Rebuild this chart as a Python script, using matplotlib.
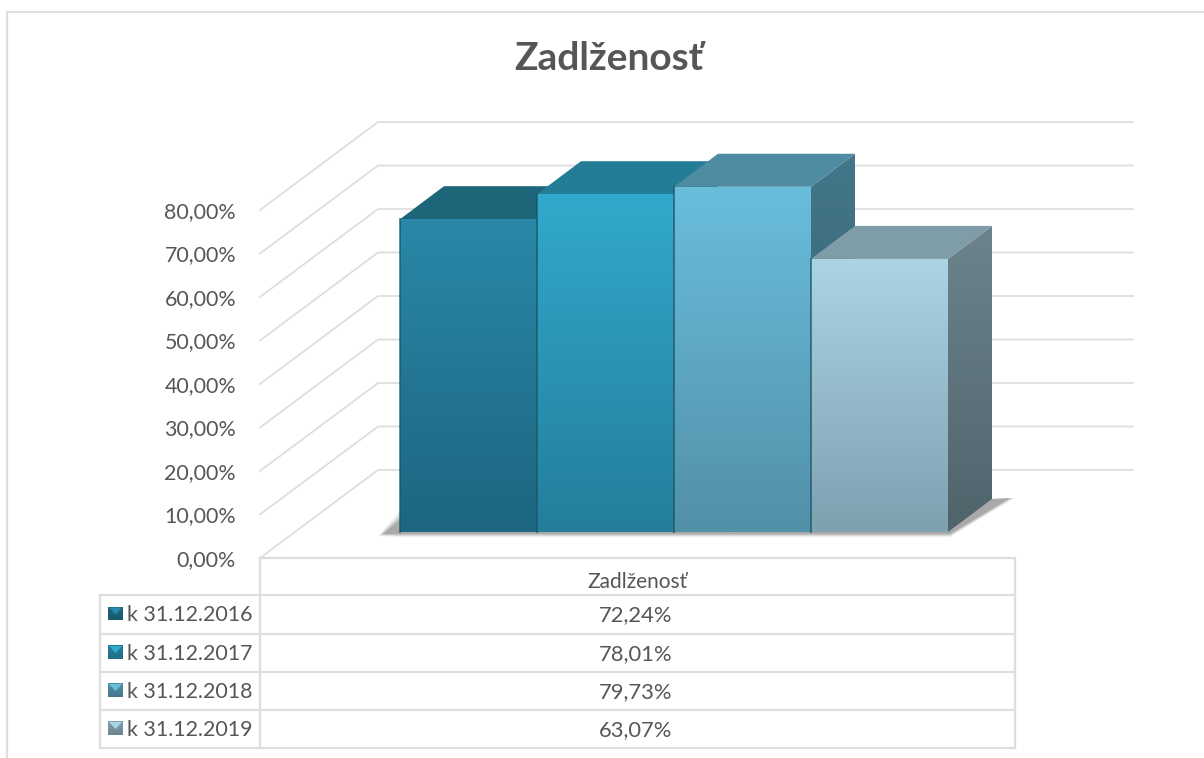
import numpy as np
import matplotlib
matplotlib.use("Agg")
import matplotlib.pyplot as plt
from matplotlib.patches import Polygon
from matplotlib.colors import LinearSegmentedColormap

title = "Zadlženosť"
category = "Zadlženosť"
series_names = ["k 31.12.2016", "k 31.12.2017", "k 31.12.2018", "k 31.12.2019"]
series_values = [72.24, 78.01, 79.73, 63.07]
axis_ticks = [0, 10, 20, 30, 40, 50, 60, 70, 80]

front_top = ["#2a88a8", "#31a9cc", "#69bedc", "#abd4e5"]
front_bottom = ["#1c6680", "#247e9b", "#5290a8", "#7ea1b0"]
top_face = ["#1d6578", "#237d97", "#4f8ba2", "#7f9da8"]
side_top = ["#1a5a6c", "#1f6f88", "#44778b", "#6d848d"]
side_bottom = ["#123f4c", "#164f60", "#2f5767", "#4f636b"]

GRID = "#dedede"
TEXT = "#565656"
FONT = "Lato"

# px layout of the fake 3d chart
AXIS_X, AXIS_Y0 = 260, 558
AXIS_PX_PER_PCT = 4.35
BAR_PX_PER_PCT = 4.33
WALL_DX, WALL_DY = 118, -88
BAR_X0, BAR_Y0, BAR_W = 400, 532, 137.0
BAR_DX, BAR_DY = 44, -33
WALL_RIGHT = 1133


def gradient_poly(ax, pts, c_top, c_bottom, zorder):
    # vertical gradient clipped to a polygon
    pts = np.array(pts)
    cmap = LinearSegmentedColormap.from_list("g", [c_top, c_bottom])
    x0, x1 = pts[:, 0].min(), pts[:, 0].max()
    y0, y1 = pts[:, 1].min(), pts[:, 1].max()
    im = ax.imshow(np.linspace(0, 1, 256).reshape(-1, 1), cmap=cmap, aspect="auto",
                   extent=(x0, x1, y1, y0), zorder=zorder, interpolation="bilinear")
    patch = Polygon(pts, closed=True, transform=ax.transData, fc="none", ec="none")
    ax.add_patch(patch)
    im.set_clip_path(patch)


def pct_label(v):
    return f"{v:.2f}%".replace(".", ",")


fig = plt.figure(figsize=(12.04, 7.58), dpi=100)
ax = fig.add_axes([0, 0, 1, 1])

# image frame, runs off the right and bottom edges
ax.plot([6.5, 6.5, 1204], [758, 11.5, 11.5], color=GRID, lw=1.6, zorder=1)

ax.text(609, 58, title, ha="center", va="center", fontsize=28, fontweight="bold",
        color=TEXT, family=FONT)

# walls and ticks
for t in axis_ticks:
    y = AXIS_Y0 - t * AXIS_PX_PER_PCT
    ax.plot([AXIS_X, AXIS_X + WALL_DX, WALL_RIGHT], [y, y + WALL_DY, y + WALL_DY],
            color=GRID, lw=1.3, zorder=1)
    ax.text(236, y + 2, pct_label(t), ha="right", va="center", fontsize=15.4,
            color=TEXT, family=FONT)

# floor shadows, stacked to fake a blur
x_r = BAR_X0 + BAR_W * len(series_values)
for grow, alpha in [(10, 0.05), (8, 0.07), (6, 0.09), (4, 0.12), (2, 0.16), (0, 0.2)]:
    ax.add_patch(Polygon([(BAR_X0 - 17 - grow / 2, BAR_Y0 + 2 + grow / 5), (BAR_X0, BAR_Y0 - 12 - grow),
                          (x_r + BAR_DX, BAR_Y0 + BAR_DY), (x_r + BAR_DX + 18 + grow / 2, BAR_Y0 + BAR_DY - 1),
                          (x_r + 2, BAR_Y0 + 2 + grow / 3), (BAR_X0, BAR_Y0 + 2 + grow / 3)],
                         closed=True, fc="#606060", ec="none", alpha=alpha, zorder=2))

# bars, drawn left to right so each one covers the side of the previous
for i, v in enumerate(series_values):
    x0 = BAR_X0 + i * BAR_W
    x1 = x0 + BAR_W
    y_top = BAR_Y0 - v * BAR_PX_PER_PCT
    side = [(x1, y_top), (x1 + BAR_DX, y_top + BAR_DY),
            (x1 + BAR_DX, BAR_Y0 + BAR_DY), (x1, BAR_Y0)]
    top = [(x0, y_top), (x0 + BAR_DX, y_top + BAR_DY),
           (x1 + BAR_DX, y_top + BAR_DY), (x1, y_top)]
    front = [(x0, y_top), (x1, y_top), (x1, BAR_Y0), (x0, BAR_Y0)]
    z = 3 + i
    gradient_poly(ax, side, side_top[i], side_bottom[i], z)
    ax.add_patch(Polygon(top, closed=True, fc=top_face[i], ec="none", zorder=z + 0.1))
    gradient_poly(ax, front, front_top[i], front_bottom[i], z + 0.2)
    # dark seam on the bar's left edge
    ax.plot([x0, x0], [y_top, BAR_Y0], color="#1a5566", lw=1.3, alpha=0.75, zorder=z + 0.3)

# data table
row_lines = [558, 595, 634, 672, 710, 748]
TABLE_L, TABLE_M, TABLE_R = 100, 260, 1015
ax.plot([TABLE_M, TABLE_R], [row_lines[0], row_lines[0]], color=GRID, lw=1.6, zorder=1)
for y in row_lines[1:]:
    ax.plot([TABLE_L, TABLE_R], [y, y], color=GRID, lw=1.6, zorder=1)
ax.plot([TABLE_L, TABLE_L], [row_lines[1], row_lines[-1]], color=GRID, lw=1.6, zorder=1)
ax.plot([TABLE_M, TABLE_M], [row_lines[0], row_lines[-1]], color=GRID, lw=1.6, zorder=1)
ax.plot([TABLE_R, TABLE_R], [row_lines[0], row_lines[-1]], color=GRID, lw=1.6, zorder=1)

ax.text(637, 582, category, ha="center", va="center", fontsize=15, color=TEXT, family=FONT)
for i, (name, v) in enumerate(zip(series_names, series_values)):
    yc = (row_lines[i + 1] + row_lines[i + 2]) / 2
    ax.text(636, yc + 1, pct_label(v), ha="center", va="center", fontsize=15.8, color=TEXT, family=FONT)
    ax.text(127, yc + 0.5, name, ha="left", va="center", fontsize=15.4, color=TEXT, family=FONT)
    # legend key
    kx0, kx1, ky0, ky1 = 108, 123, yc - 8, yc + 6
    gradient_poly(ax, [(kx0, ky0), (kx1, ky0), (kx1, ky1), (kx0, ky1)], front_bottom[i], side_top[i], 8)
    ax.add_patch(Polygon([(kx0 + 1, ky0 + 1), (kx1 - 1, ky0 + 1), ((kx0 + kx1) / 2, ky0 + 8)],
                         closed=True, fc=front_top[i], ec="none", zorder=9))

ax.set_xlim(0, 1204)
ax.set_ylim(758, 0)
ax.axis("off")
fig.savefig("out.png", dpi=100, facecolor="white")
